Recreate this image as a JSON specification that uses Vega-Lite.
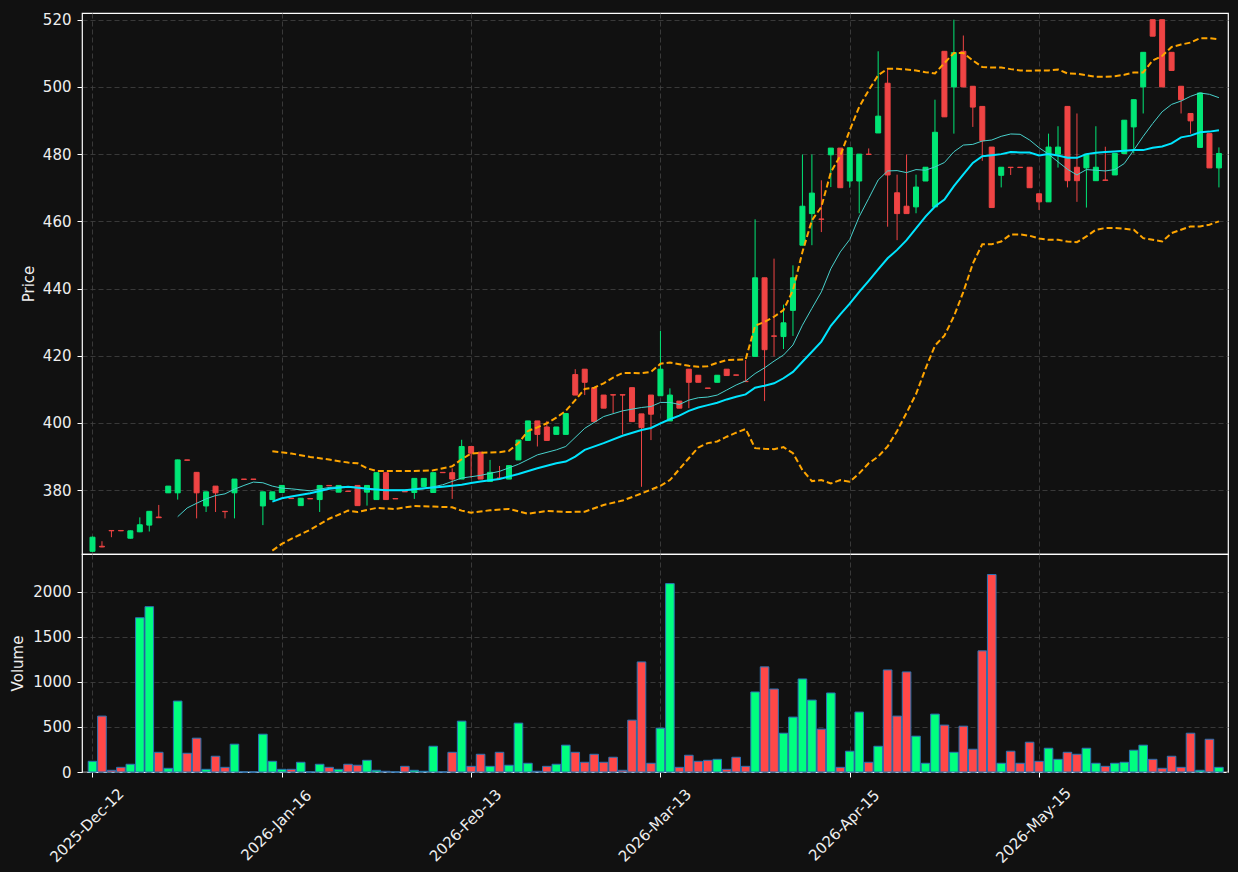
{
"$schema": "https://vega.github.io/schema/vega-lite/v6.json",
"background": "#111111",
"padding": {"left": 10, "top": 12, "right": 11, "bottom": 5},
"spacing": 0,
"bounds": "flush",
"config": {
  "font": "DejaVu Sans",
  "view": {"stroke": "#ffffff", "strokeWidth": 1.2},
  "axis": {"labelFont": "DejaVu Sans", "labelFontSize": 15, "labelColor": "#eeeeee", "titleFont": "DejaVu Sans", "titleFontSize": 15, "titleFontWeight": "normal", "titleColor": "#eeeeee", "tickColor": "#ffffff", "tickSize": 5, "domain": false, "gridColor": "#444444", "gridDash": [5, 3], "gridWidth": 0.8, "labelPadding": 6}
},
"datasets": {
"ohlc": [
{"i":0,"o":361.8,"h":366.2,"l":361.6,"c":366.0,"v":119},
{"i":1,"o":363.3,"h":364.8,"l":363.0,"c":363.1,"v":621},
{"i":2,"o":368.0,"h":368.1,"l":366.0,"c":367.9,"v":19},
{"i":3,"o":368.0,"h":368.1,"l":367.8,"c":367.9,"v":52},
{"i":4,"o":365.7,"h":368.0,"l":365.6,"c":367.9,"v":86},
{"i":5,"o":367.6,"h":371.9,"l":367.5,"c":369.7,"v":1714},
{"i":6,"o":369.6,"h":373.8,"l":367.7,"c":373.7,"v":1837},
{"i":7,"o":372.0,"h":375.6,"l":371.7,"c":371.8,"v":219},
{"i":8,"o":379.2,"h":381.2,"l":379.2,"c":381.2,"v":41},
{"i":9,"o":379.2,"h":389.1,"l":377.2,"c":389.0,"v":788},
{"i":10,"o":389.0,"h":389.0,"l":388.9,"c":388.9,"v":208},
{"i":11,"o":385.3,"h":385.4,"l":371.6,"c":379.2,"v":376},
{"i":12,"o":375.3,"h":379.5,"l":373.5,"c":379.5,"v":30},
{"i":13,"o":381.2,"h":381.2,"l":373.5,"c":379.2,"v":175},
{"i":14,"o":373.7,"h":373.7,"l":371.6,"c":373.6,"v":52},
{"i":15,"o":379.2,"h":383.3,"l":371.6,"c":383.3,"v":309},
{"i":16,"o":383.3,"h":383.3,"l":383.2,"c":383.2,"v":0},
{"i":17,"o":383.3,"h":383.3,"l":383.2,"c":383.2,"v":0},
{"i":18,"o":375.3,"h":379.5,"l":369.6,"c":379.5,"v":420},
{"i":19,"o":377.2,"h":379.5,"l":377.2,"c":379.5,"v":119},
{"i":20,"o":379.3,"h":381.4,"l":379.3,"c":381.4,"v":30},
{"i":21,"o":377.6,"h":377.6,"l":377.5,"c":377.5,"v":30},
{"i":22,"o":375.4,"h":377.6,"l":375.4,"c":377.6,"v":108},
{"i":23,"o":377.5,"h":377.5,"l":377.4,"c":377.4,"v":0},
{"i":24,"o":377.2,"h":381.4,"l":373.5,"c":381.4,"v":86},
{"i":25,"o":381.4,"h":381.4,"l":381.3,"c":381.3,"v":52},
{"i":26,"o":379.4,"h":381.4,"l":379.4,"c":381.4,"v":30},
{"i":27,"o":379.7,"h":379.7,"l":379.6,"c":379.6,"v":86},
{"i":28,"o":381.4,"h":381.4,"l":375.4,"c":375.4,"v":75},
{"i":29,"o":379.4,"h":381.4,"l":375.4,"c":381.4,"v":130},
{"i":30,"o":377.2,"h":385.2,"l":377.2,"c":385.2,"v":19},
{"i":31,"o":385.2,"h":385.2,"l":377.2,"c":377.2,"v":8},
{"i":32,"o":377.5,"h":377.5,"l":377.4,"c":377.4,"v":0},
{"i":33,"o":379.6,"h":379.6,"l":379.5,"c":379.5,"v":63},
{"i":34,"o":379.3,"h":383.5,"l":377.4,"c":383.5,"v":19},
{"i":35,"o":381.1,"h":383.5,"l":381.1,"c":383.5,"v":8},
{"i":36,"o":379.3,"h":385.2,"l":379.3,"c":385.2,"v":286},
{"i":37,"o":385.3,"h":385.3,"l":385.2,"c":385.2,"v":0},
{"i":38,"o":385.2,"h":386.5,"l":377.4,"c":383.3,"v":219},
{"i":39,"o":383.3,"h":395.0,"l":383.3,"c":393.0,"v":565},
{"i":40,"o":393.0,"h":393.0,"l":383.6,"c":391.0,"v":63},
{"i":41,"o":391.3,"h":391.3,"l":383.3,"c":383.3,"v":197},
{"i":42,"o":382.6,"h":389.0,"l":382.6,"c":385.3,"v":63},
{"i":43,"o":383.6,"h":387.2,"l":383.5,"c":383.5,"v":219},
{"i":44,"o":383.3,"h":387.3,"l":383.3,"c":387.3,"v":75},
{"i":45,"o":389.0,"h":394.9,"l":389.0,"c":394.9,"v":543},
{"i":46,"o":394.8,"h":400.6,"l":394.8,"c":400.6,"v":97},
{"i":47,"o":400.6,"h":400.6,"l":393.0,"c":396.6,"v":8},
{"i":48,"o":398.8,"h":400.6,"l":394.8,"c":394.8,"v":63},
{"i":49,"o":396.6,"h":398.8,"l":396.6,"c":398.8,"v":86},
{"i":50,"o":396.6,"h":402.8,"l":396.6,"c":402.8,"v":298},
{"i":51,"o":414.4,"h":416.0,"l":408.3,"c":408.3,"v":219},
{"i":52,"o":416.0,"h":416.0,"l":408.3,"c":412.1,"v":108},
{"i":53,"o":410.5,"h":410.5,"l":400.4,"c":400.4,"v":197},
{"i":54,"o":408.3,"h":408.3,"l":404.4,"c":404.4,"v":108},
{"i":55,"o":408.4,"h":408.4,"l":402.9,"c":408.3,"v":164},
{"i":56,"o":408.4,"h":408.4,"l":396.6,"c":408.3,"v":19},
{"i":57,"o":410.5,"h":410.5,"l":400.4,"c":400.4,"v":576},
{"i":58,"o":402.7,"h":402.7,"l":381.0,"c":398.6,"v":1223},
{"i":59,"o":408.3,"h":408.3,"l":394.9,"c":402.6,"v":97},
{"i":60,"o":408.1,"h":427.4,"l":408.1,"c":416.0,"v":487},
{"i":61,"o":400.6,"h":410.3,"l":400.6,"c":408.3,"v":2093},
{"i":62,"o":406.5,"h":406.5,"l":404.4,"c":404.4,"v":52},
{"i":63,"o":416.0,"h":416.0,"l":404.4,"c":412.1,"v":186},
{"i":64,"o":414.2,"h":414.2,"l":412.1,"c":412.1,"v":119},
{"i":65,"o":410.4,"h":410.4,"l":410.3,"c":410.3,"v":130},
{"i":66,"o":412.1,"h":414.2,"l":412.1,"c":414.2,"v":141},
{"i":67,"o":416.0,"h":416.0,"l":414.1,"c":414.1,"v":30},
{"i":68,"o":414.3,"h":414.3,"l":414.2,"c":414.2,"v":164},
{"i":69,"o":412.4,"h":418.7,"l":412.2,"c":412.3,"v":63},
{"i":70,"o":419.8,"h":460.6,"l":419.8,"c":443.2,"v":889},
{"i":71,"o":443.2,"h":443.2,"l":406.5,"c":421.8,"v":1168},
{"i":72,"o":425.9,"h":448.9,"l":419.8,"c":425.8,"v":922},
{"i":73,"o":425.7,"h":435.2,"l":422.0,"c":429.8,"v":431},
{"i":74,"o":433.5,"h":446.9,"l":425.9,"c":443.2,"v":610},
{"i":75,"o":452.9,"h":479.9,"l":452.9,"c":464.5,"v":1034},
{"i":76,"o":462.3,"h":479.9,"l":452.9,"c":468.4,"v":799},
{"i":77,"o":460.7,"h":472.2,"l":456.8,"c":460.6,"v":476},
{"i":78,"o":479.8,"h":481.8,"l":470.2,"c":481.8,"v":878},
{"i":79,"o":481.8,"h":481.8,"l":470.0,"c":470.0,"v":52},
{"i":80,"o":472.0,"h":481.9,"l":470.0,"c":481.9,"v":231},
{"i":81,"o":472.0,"h":480.0,"l":462.4,"c":480.0,"v":666},
{"i":82,"o":480.0,"h":481.7,"l":479.9,"c":479.9,"v":108},
{"i":83,"o":486.3,"h":510.6,"l":486.3,"c":491.3,"v":286},
{"i":84,"o":501.1,"h":505.4,"l":458.4,"c":473.8,"v":1134},
{"i":85,"o":468.5,"h":473.9,"l":454.4,"c":462.3,"v":621},
{"i":86,"o":464.5,"h":479.9,"l":462.3,"c":462.3,"v":1112},
{"i":87,"o":464.3,"h":473.9,"l":462.4,"c":470.2,"v":398},
{"i":88,"o":472.0,"h":476.1,"l":472.0,"c":476.1,"v":97},
{"i":89,"o":464.3,"h":496.2,"l":464.3,"c":486.5,"v":643},
{"i":90,"o":510.6,"h":510.6,"l":491.1,"c":491.1,"v":521},
{"i":91,"o":500.0,"h":520.0,"l":486.1,"c":510.2,"v":219},
{"i":92,"o":510.6,"h":515.3,"l":500.0,"c":500.0,"v":509},
{"i":93,"o":500.2,"h":500.2,"l":488.1,"c":494.0,"v":253},
{"i":94,"o":494.2,"h":494.2,"l":478.0,"c":484.0,"v":1346},
{"i":95,"o":482.1,"h":482.1,"l":464.1,"c":464.1,"v":2194},
{"i":96,"o":473.7,"h":476.1,"l":470.1,"c":476.1,"v":97},
{"i":97,"o":476.1,"h":476.1,"l":473.8,"c":476.0,"v":231},
{"i":98,"o":476.1,"h":476.1,"l":476.0,"c":476.0,"v":97},
{"i":99,"o":476.1,"h":476.1,"l":470.0,"c":470.0,"v":331},
{"i":100,"o":468.2,"h":468.2,"l":463.4,"c":465.8,"v":119},
{"i":101,"o":465.8,"h":486.1,"l":465.8,"c":482.1,"v":264},
{"i":102,"o":480.0,"h":488.3,"l":476.0,"c":482.1,"v":141},
{"i":103,"o":494.2,"h":494.2,"l":470.1,"c":472.1,"v":219},
{"i":104,"o":476.1,"h":492.1,"l":465.8,"c":472.1,"v":197},
{"i":105,"o":475.9,"h":480.0,"l":464.1,"c":480.0,"v":264},
{"i":106,"o":472.1,"h":488.3,"l":472.1,"c":476.1,"v":97},
{"i":107,"o":472.3,"h":482.2,"l":472.2,"c":472.2,"v":63},
{"i":108,"o":473.8,"h":480.2,"l":473.8,"c":480.2,"v":97},
{"i":109,"o":480.2,"h":490.1,"l":480.2,"c":490.1,"v":108},
{"i":110,"o":488.1,"h":496.2,"l":480.2,"c":496.2,"v":242},
{"i":111,"o":500.0,"h":510.3,"l":492.1,"c":510.3,"v":298},
{"i":112,"o":520.0,"h":520.0,"l":515.1,"c":515.1,"v":141},
{"i":113,"o":520.0,"h":520.0,"l":500.0,"c":500.0,"v":41},
{"i":114,"o":510.3,"h":510.3,"l":504.9,"c":504.9,"v":175},
{"i":115,"o":500.2,"h":500.2,"l":492.1,"c":496.2,"v":52},
{"i":116,"o":492.1,"h":492.1,"l":486.1,"c":489.9,"v":431},
{"i":117,"o":482.0,"h":498.2,"l":482.0,"c":498.2,"v":19},
{"i":118,"o":486.1,"h":486.1,"l":475.9,"c":475.9,"v":364},
{"i":119,"o":475.9,"h":482.0,"l":470.1,"c":480.2,"v":52}
],
"ma10": [
{"i":9,"p":372.1},{"i":10,"p":374.7},{"i":11,"p":376.1},{"i":12,"p":377.4},{"i":13,"p":378.4},{"i":14,"p":378.9},{"i":15,"p":380.3},{"i":16,"p":381.4},{"i":17,"p":382.4},{"i":18,"p":382.2},{"i":19,"p":381.2},{"i":20,"p":380.6},{"i":21,"p":380.4},{"i":23,"p":379.8},{"i":25,"p":380.8},{"i":27,"p":381.1},{"i":29,"p":380.4},{"i":31,"p":380.0},{"i":33,"p":380.0},{"i":35,"p":380.4},{"i":37,"p":381.6},{"i":39,"p":383.6},{"i":41,"p":384.4},{"i":43,"p":385.6},{"i":45,"p":387.7},{"i":47,"p":390.5},{"i":49,"p":392.0},{"i":50,"p":393.0},{"i":52,"p":398.4},{"i":54,"p":401.9},{"i":56,"p":403.6},{"i":58,"p":404.6},{"i":59,"p":404.9},{"i":60,"p":406.1},{"i":61,"p":406.1},{"i":62,"p":405.5},{"i":63,"p":406.8},{"i":64,"p":407.5},{"i":65,"p":407.7},{"i":66,"p":408.3},{"i":67,"p":409.8},{"i":68,"p":411.3},{"i":69,"p":412.5},{"i":70,"p":414.7},{"i":71,"p":416.4},{"i":72,"p":418.4},{"i":73,"p":420.2},{"i":74,"p":423.2},{"i":75,"p":429.1},{"i":76,"p":434.1},{"i":77,"p":439.0},{"i":78,"p":445.9},{"i":79,"p":450.9},{"i":80,"p":454.6},{"i":81,"p":461.4},{"i":82,"p":466.8},{"i":83,"p":472.3},{"i":84,"p":475.0},{"i":85,"p":475.1},{"i":86,"p":474.5},{"i":87,"p":475.4},{"i":88,"p":475.2},{"i":89,"p":476.2},{"i":90,"p":477.5},{"i":91,"p":480.7},{"i":92,"p":482.7},{"i":93,"p":482.9},{"i":94,"p":483.9},{"i":95,"p":484.2},{"i":96,"p":485.3},{"i":97,"p":486.0},{"i":98,"p":485.9},{"i":99,"p":484.2},{"i":100,"p":481.9},{"i":101,"p":480.0},{"i":102,"p":477.7},{"i":103,"p":475.5},{"i":104,"p":473.8},{"i":105,"p":475.4},{"i":106,"p":475.2},{"i":107,"p":475.0},{"i":108,"p":475.4},{"i":109,"p":477.2},{"i":110,"p":481.2},{"i":111,"p":485.3},{"i":112,"p":489.1},{"i":113,"p":492.6},{"i":114,"p":494.8},{"i":115,"p":495.8},{"i":116,"p":497.2},{"i":117,"p":498.2},{"i":118,"p":497.8},{"i":119,"p":496.8}
],
"ma20": [
{"i":19,"p":376.6},{"i":20,"p":377.6},{"i":21,"p":378.1},{"i":23,"p":379.1},{"i":25,"p":380.4},{"i":27,"p":381.0},{"i":29,"p":380.4},{"i":31,"p":380.0},{"i":33,"p":380.0},{"i":35,"p":380.6},{"i":37,"p":381.0},{"i":39,"p":381.6},{"i":40,"p":382.1},{"i":41,"p":382.6},{"i":43,"p":383.3},{"i":45,"p":384.8},{"i":47,"p":386.5},{"i":49,"p":388.0},{"i":50,"p":388.5},{"i":51,"p":390.0},{"i":52,"p":392.0},{"i":54,"p":394.0},{"i":56,"p":396.2},{"i":58,"p":397.9},{"i":59,"p":398.5},{"i":60,"p":399.9},{"i":61,"p":401.1},{"i":62,"p":402.2},{"i":63,"p":403.6},{"i":64,"p":404.6},{"i":65,"p":405.3},{"i":66,"p":406.0},{"i":67,"p":407.0},{"i":68,"p":407.8},{"i":69,"p":408.5},{"i":70,"p":410.5},{"i":71,"p":411.1},{"i":72,"p":411.8},{"i":73,"p":413.3},{"i":74,"p":415.2},{"i":75,"p":418.2},{"i":76,"p":421.2},{"i":77,"p":424.2},{"i":78,"p":428.9},{"i":79,"p":432.3},{"i":80,"p":435.5},{"i":81,"p":439.0},{"i":82,"p":442.3},{"i":83,"p":445.7},{"i":84,"p":449.0},{"i":85,"p":451.5},{"i":86,"p":454.4},{"i":87,"p":457.9},{"i":88,"p":461.4},{"i":89,"p":464.4},{"i":90,"p":466.5},{"i":91,"p":470.5},{"i":92,"p":474.0},{"i":93,"p":477.4},{"i":94,"p":479.4},{"i":95,"p":479.7},{"i":96,"p":480.0},{"i":97,"p":480.6},{"i":98,"p":480.5},{"i":99,"p":480.5},{"i":100,"p":479.6},{"i":101,"p":480.0},{"i":102,"p":479.6},{"i":103,"p":478.9},{"i":104,"p":478.9},{"i":105,"p":480.0},{"i":106,"p":480.4},{"i":107,"p":480.6},{"i":108,"p":480.8},{"i":109,"p":481.0},{"i":110,"p":481.2},{"i":111,"p":481.2},{"i":112,"p":481.9},{"i":113,"p":482.3},{"i":114,"p":483.2},{"i":115,"p":485.0},{"i":116,"p":485.5},{"i":117,"p":486.5},{"i":118,"p":486.7},{"i":119,"p":487.1}
],
"bbu": [
{"i":19,"p":391.6},{"i":21,"p":390.9},{"i":23,"p":389.9},{"i":25,"p":389.1},{"i":27,"p":388.2},{"i":28,"p":388.0},{"i":29,"p":386.5},{"i":30,"p":385.7},{"i":32,"p":385.7},{"i":34,"p":385.7},{"i":36,"p":385.9},{"i":38,"p":387.1},{"i":39,"p":389.2},{"i":40,"p":390.9},{"i":41,"p":391.1},{"i":43,"p":391.3},{"i":44,"p":391.7},{"i":45,"p":394.0},{"i":46,"p":397.6},{"i":47,"p":398.7},{"i":48,"p":399.9},{"i":49,"p":401.6},{"i":50,"p":403.6},{"i":51,"p":406.8},{"i":52,"p":410.1},{"i":53,"p":410.5},{"i":54,"p":411.8},{"i":55,"p":413.5},{"i":56,"p":414.9},{"i":57,"p":414.9},{"i":58,"p":414.8},{"i":59,"p":415.2},{"i":60,"p":417.6},{"i":61,"p":418.0},{"i":62,"p":417.5},{"i":63,"p":417.0},{"i":64,"p":416.7},{"i":65,"p":416.9},{"i":66,"p":417.9},{"i":67,"p":418.7},{"i":68,"p":418.8},{"i":69,"p":418.9},{"i":70,"p":428.9},{"i":71,"p":430.1},{"i":72,"p":431.6},{"i":73,"p":433.6},{"i":74,"p":439.5},{"i":75,"p":450.9},{"i":76,"p":460.3},{"i":77,"p":464.3},{"i":78,"p":474.6},{"i":79,"p":479.5},{"i":80,"p":487.1},{"i":81,"p":494.1},{"i":82,"p":499.0},{"i":83,"p":503.5},{"i":84,"p":505.4},{"i":85,"p":505.4},{"i":86,"p":505.2},{"i":87,"p":504.9},{"i":88,"p":504.4},{"i":89,"p":504.0},{"i":90,"p":507.1},{"i":91,"p":510.1},{"i":92,"p":510.1},{"i":93,"p":507.9},{"i":94,"p":505.9},{"i":95,"p":505.8},{"i":96,"p":505.8},{"i":97,"p":505.3},{"i":98,"p":504.9},{"i":99,"p":504.8},{"i":100,"p":504.9},{"i":101,"p":504.9},{"i":102,"p":505.2},{"i":103,"p":504.0},{"i":104,"p":503.9},{"i":105,"p":503.5},{"i":106,"p":503.0},{"i":107,"p":503.0},{"i":108,"p":503.2},{"i":109,"p":503.6},{"i":110,"p":504.3},{"i":111,"p":504.3},{"i":112,"p":507.9},{"i":113,"p":509.2},{"i":114,"p":511.9},{"i":115,"p":512.6},{"i":116,"p":513.2},{"i":117,"p":514.5},{"i":118,"p":514.5},{"i":119,"p":514.2}
],
"bbl": [
{"i":19,"p":362.0},{"i":20,"p":364.0},{"i":21,"p":365.5},{"i":23,"p":368.2},{"i":25,"p":371.5},{"i":27,"p":373.9},{"i":28,"p":373.5},{"i":30,"p":374.7},{"i":32,"p":374.4},{"i":34,"p":375.3},{"i":36,"p":375.1},{"i":38,"p":374.9},{"i":39,"p":373.9},{"i":40,"p":373.3},{"i":42,"p":374.0},{"i":44,"p":374.4},{"i":46,"p":373.0},{"i":48,"p":373.8},{"i":50,"p":373.5},{"i":52,"p":373.6},{"i":54,"p":375.6},{"i":56,"p":376.9},{"i":58,"p":379.0},{"i":60,"p":381.3},{"i":61,"p":383.0},{"i":63,"p":389.5},{"i":64,"p":392.7},{"i":65,"p":394.0},{"i":66,"p":394.5},{"i":67,"p":395.9},{"i":68,"p":397.1},{"i":69,"p":398.2},{"i":70,"p":392.5},{"i":71,"p":392.3},{"i":72,"p":392.2},{"i":73,"p":392.8},{"i":74,"p":391.0},{"i":75,"p":386.0},{"i":76,"p":382.7},{"i":77,"p":383.0},{"i":78,"p":382.0},{"i":79,"p":383.0},{"i":80,"p":382.5},{"i":81,"p":385.0},{"i":82,"p":388.0},{"i":83,"p":390.0},{"i":84,"p":393.0},{"i":85,"p":397.6},{"i":86,"p":403.0},{"i":87,"p":408.6},{"i":88,"p":416.1},{"i":89,"p":423.0},{"i":90,"p":426.0},{"i":91,"p":431.7},{"i":92,"p":439.0},{"i":93,"p":447.4},{"i":94,"p":453.2},{"i":95,"p":453.2},{"i":96,"p":454.0},{"i":97,"p":456.1},{"i":98,"p":456.1},{"i":99,"p":455.7},{"i":100,"p":454.9},{"i":101,"p":454.5},{"i":102,"p":454.5},{"i":103,"p":454.0},{"i":104,"p":453.8},{"i":105,"p":455.5},{"i":106,"p":457.5},{"i":107,"p":458.0},{"i":108,"p":458.0},{"i":109,"p":457.8},{"i":110,"p":457.5},{"i":111,"p":455.0},{"i":112,"p":454.5},{"i":113,"p":454.0},{"i":114,"p":456.5},{"i":115,"p":457.5},{"i":116,"p":458.5},{"i":117,"p":458.5},{"i":118,"p":459.0},{"i":119,"p":460.0}
]
},
"vconcat": [
{
  "width": 1146,
  "height": 541,
  "encoding": {
    "x": {"field": "i", "type": "quantitative", "title": null,
          "scale": {"domain": [-0.58, 119.43], "nice": false, "zero": false},
          "axis": {"values": [0, 20, 40, 60, 80, 100], "labels": false, "ticks": false, "grid": true, "minExtent": 0, "maxExtent": 0}}
  },
  "layer": [
    {"data": {"name": "ohlc"}, "mark": {"type": "rule", "strokeWidth": 1, "clip": true},
     "encoding": {
       "y": {"field": "l", "type": "quantitative", "title": "Price",
             "scale": {"domain": [361, 522], "nice": false, "zero": false},
             "axis": {"values": [380, 400, 420, 440, 460, 480, 500, 520], "titlePadding": 6}},
       "y2": {"field": "h"},
       "color": {"condition": {"test": "datum.c >= datum.o", "value": "#00e676"}, "value": "#ef4444"}
     }},
    {"data": {"name": "ohlc"}, "mark": {"type": "bar", "size": 5, "strokeWidth": 1, "clip": true},
     "encoding": {
       "y": {"field": "o", "type": "quantitative", "title": "Price"},
       "y2": {"field": "c"},
       "color": {"condition": {"test": "datum.c >= datum.o", "value": "#00e676"}, "value": "#ef4444"},
       "stroke": {"condition": {"test": "datum.c >= datum.o", "value": "#00e676"}, "value": "#ef4444"}
     }},
    {"data": {"name": "ma10"}, "mark": {"type": "line", "color": "#48d1cc", "strokeWidth": 1, "clip": true},
     "encoding": {"y": {"field": "p", "type": "quantitative", "title": "Price"}}},
    {"data": {"name": "ma20"}, "mark": {"type": "line", "color": "#00e5ff", "strokeWidth": 2, "clip": true},
     "encoding": {"y": {"field": "p", "type": "quantitative", "title": "Price"}}},
    {"data": {"name": "bbu"}, "mark": {"type": "line", "color": "#ffa500", "strokeWidth": 2, "strokeDash": [6, 3], "clip": true},
     "encoding": {"y": {"field": "p", "type": "quantitative", "title": "Price"}}},
    {"data": {"name": "bbl"}, "mark": {"type": "line", "color": "#ffa500", "strokeWidth": 2, "strokeDash": [6, 3], "clip": true},
     "encoding": {"y": {"field": "p", "type": "quantitative", "title": "Price"}}}
  ]
},
{
  "width": 1146,
  "height": 218,
  "data": {"name": "ohlc"},
  "mark": {"type": "bar", "size": 8.6, "stroke": "#2a74b5", "strokeWidth": 1},
  "encoding": {
    "x": {"field": "i", "type": "quantitative", "title": null,
          "scale": {"domain": [-0.58, 119.43], "nice": false, "zero": false},
          "axis": {"values": [0, 20, 40, 60, 80, 100], "grid": true, "labelAngle": -45, "labelAlign": "center", "labelBaseline": "middle", "labelPadding": 48, "labelOffset": -6, "labelFlush": false,
                   "labelExpr": "datum.value == 0 ? '2025-Dec-12' : datum.value == 20 ? '2026-Jan-16' : datum.value == 40 ? '2026-Feb-13' : datum.value == 60 ? '2026-Mar-13' : datum.value == 80 ? '2026-Apr-15' : '2026-May-15'"}},
    "y": {"field": "v", "type": "quantitative", "title": "Volume",
          "scale": {"domain": [0, 2422], "nice": false},
          "axis": {"values": [0, 500, 1000, 1500, 2000], "format": "d", "titlePadding": 7}},
    "color": {"condition": {"test": "datum.c >= datum.o", "value": "#00ff7f"}, "value": "#ff4848"}
  }
}
]
}
